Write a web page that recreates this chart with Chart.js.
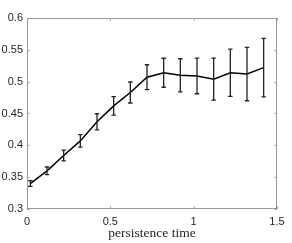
<!DOCTYPE html>
<html lang="en">
<head>
  <meta charset="UTF-8" />
  <title>persistence time</title>
  <script src="https://cdn.jsdelivr.net/npm/chart.js"></script>
  <style>
    body { margin: 0; background: #fff; }
    #chart { display: block; }
  </style>
</head>
<body>
<canvas id="chart" width="292" height="243"></canvas>
<script>
  // data
  const persistence = [0.02, 0.12, 0.22, 0.32, 0.42, 0.52, 0.62, 0.72, 0.82, 0.92, 1.02, 1.12, 1.22, 1.32, 1.42];
  const meanValue   = [0.340, 0.360, 0.384, 0.407, 0.437, 0.462, 0.483, 0.507, 0.514, 0.510, 0.509, 0.504, 0.514, 0.512, 0.522];
  const errValue    = [0.0045, 0.006, 0.0084, 0.0098, 0.0126, 0.0145, 0.0165, 0.0196, 0.0228, 0.026, 0.028, 0.033, 0.037, 0.042, 0.046];
  const xTicks = [0, 0.5, 1, 1.5];
  const yTicks = [0.3, 0.35, 0.4, 0.45, 0.5, 0.55, 0.6];

  const axisColor = '#9a9a9a';
  const textColor = '#262626';

  // box, inward ticks and error bars (matlab look)
  const matlabAxes = {
    id: 'matlabAxes',
    afterDatasetsDraw(chart) {
      const { ctx, chartArea: a, scales: { x, y } } = chart;
      ctx.save();

      // error bars
      ctx.strokeStyle = '#222';
      ctx.lineWidth = 1.3;
      ctx.beginPath();
      persistence.forEach((px, i) => {
        const cx = x.getPixelForValue(px);
        const lo = y.getPixelForValue(meanValue[i] - errValue[i]);
        const hi = y.getPixelForValue(meanValue[i] + errValue[i]);
        ctx.moveTo(cx, lo); ctx.lineTo(cx, hi);
        ctx.moveTo(cx - 2.2, lo); ctx.lineTo(cx + 2.2, lo);
        ctx.moveTo(cx - 2.2, hi); ctx.lineTo(cx + 2.2, hi);
      });
      ctx.stroke();

      // box
      ctx.strokeStyle = axisColor;
      ctx.lineWidth = 1;
      ctx.strokeRect(a.left + 0.5, a.top + 0.5, a.right - a.left - 1, a.bottom - a.top - 1);

      // ticks pointing in
      const tl = 2.5;
      ctx.beginPath();
      xTicks.forEach(v => {
        const px = Math.round(x.getPixelForValue(v)) + 0.5;
        ctx.moveTo(px, a.bottom); ctx.lineTo(px, a.bottom - tl);
        ctx.moveTo(px, a.top); ctx.lineTo(px, a.top + tl);
      });
      yTicks.forEach(v => {
        const py = Math.round(y.getPixelForValue(v)) + 0.5;
        ctx.moveTo(a.left, py); ctx.lineTo(a.left + tl, py);
        ctx.moveTo(a.right, py); ctx.lineTo(a.right - tl, py);
      });
      ctx.stroke();
      ctx.restore();
    }
  };

  const tickFont = { family: 'Liberation Sans', size: 11 };

  new Chart(document.getElementById('chart'), {
    type: 'line',
    data: {
      datasets: [{
        data: persistence.map((v, i) => ({ x: v, y: meanValue[i] })),
        borderColor: '#000',
        borderWidth: 1.5,
        pointRadius: 0,
        tension: 0,
        fill: false
      }]
    },
    options: {
      responsive: false,
      animation: false,
      devicePixelRatio: 1,
      layout: { padding: { top: 18, right: 15, left: 0, bottom: 0 } },
      plugins: { legend: { display: false }, tooltip: { enabled: false } },
      scales: {
        x: {
          type: 'linear',
          min: 0,
          max: 1.5,
          afterBuildTicks: s => { s.ticks = xTicks.map(v => ({ value: v })); },
          afterFit: s => { s.height = 34; },
          grid: { display: false, drawTicks: false },
          border: { display: false },
          ticks: {
            color: textColor,
            font: tickFont,
            padding: 6,
            maxRotation: 0,
            callback: v => String(+v.toFixed(2))
          },
          title: {
            display: true,
            text: 'persistence time',
            color: textColor,
            font: { family: 'Liberation Serif', size: 13.5 },
            padding: { top: 0, bottom: 1 }
          }
        },
        y: {
          min: 0.3,
          max: 0.6,
          afterBuildTicks: s => { s.ticks = yTicks.map(v => ({ value: v })); },
          afterFit: s => { s.width = 27; },
          grid: { display: false, drawTicks: false },
          border: { display: false },
          ticks: {
            color: textColor,
            font: tickFont,
            padding: 4,
            callback: v => String(+v.toFixed(2))
          }
        }
      }
    },
    plugins: [matlabAxes]
  });
</script>
</body>
</html>
